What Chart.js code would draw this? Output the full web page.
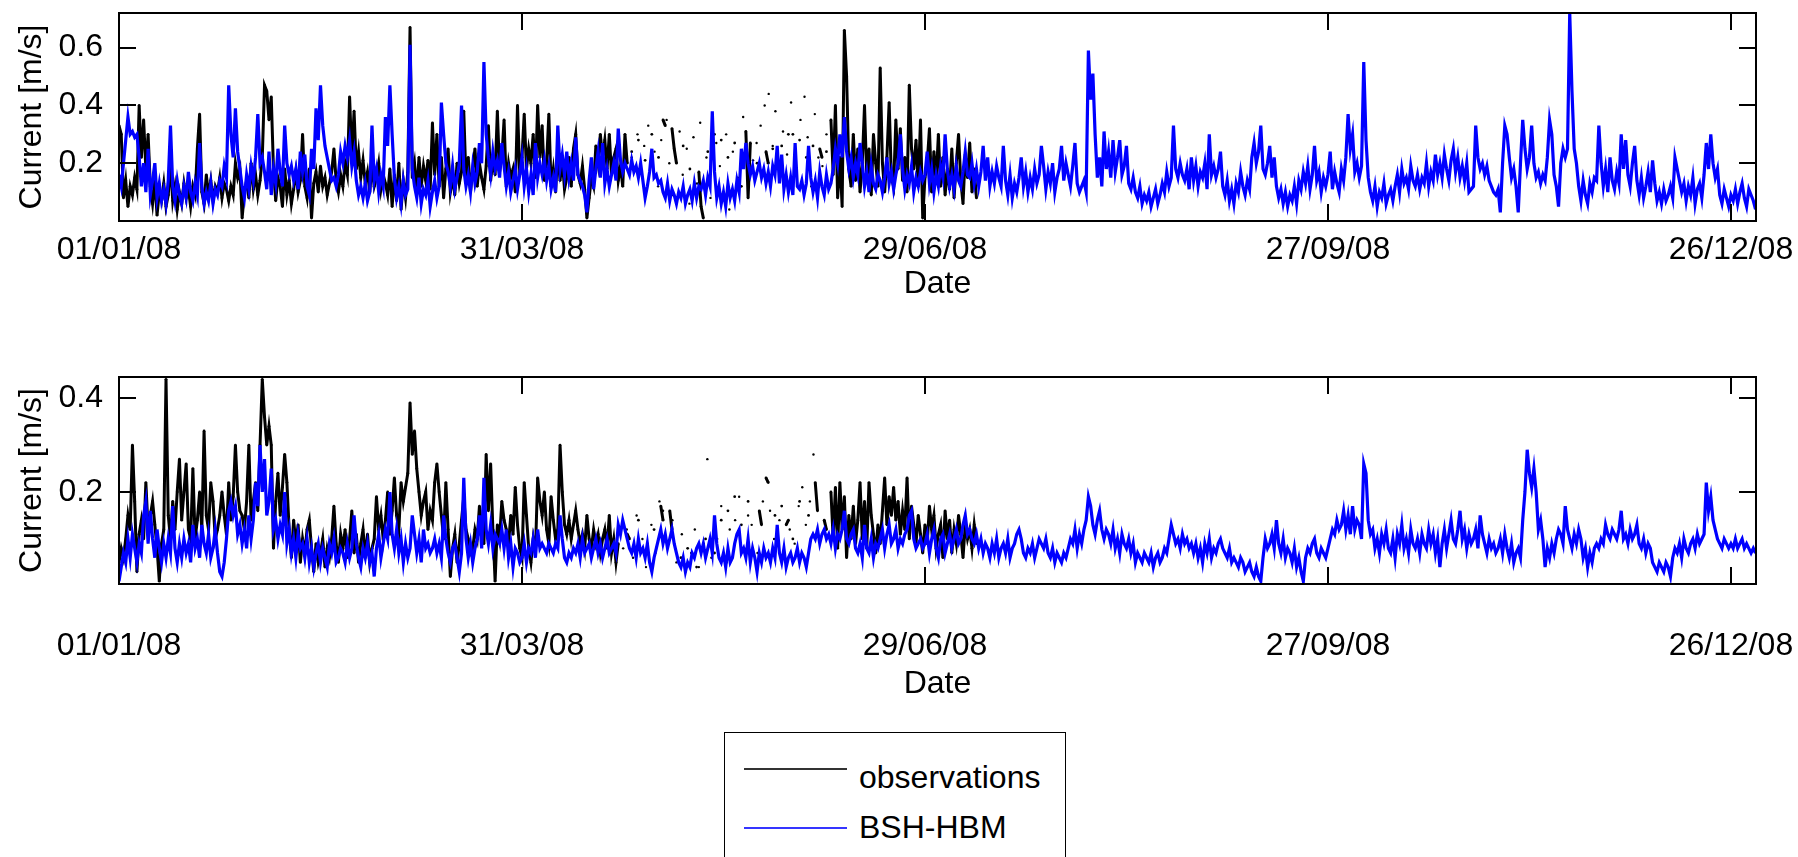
<!DOCTYPE html>
<html>
<head>
<meta charset="utf-8">
<title>Current observations vs BSH-HBM 2008</title>
<script src="https://cdn.jsdelivr.net/npm/chart.js@4.4.0/dist/chart.umd.min.js"></script>
<style>
    html, body { margin: 0; padding: 0; background: #fff; }
    body { width: 1798px; height: 857px; position: relative; overflow: hidden; font-family: "Liberation Sans", Arial, sans-serif; }
    canvas { position: absolute; left: 0; }
    #topChart { top: 0; }
    #bottomChart { top: 364px; }
    #legend { position: absolute; left: 724px; top: 732px; width: 340px; height: 160px; border: 1px solid #000; background: #fff; }
    .swatch { position: absolute; left: 19px; width: 103px; height: 2px; }
    .lbl { position: absolute; left: 134px; font-size: 32px; line-height: 32px; color: #000; white-space: nowrap; }
</style>
</head>
<body>
<canvas id="topChart" width="1798" height="303"></canvas>
<canvas id="bottomChart" width="1798" height="339"></canvas>
<div id="legend">
    <div class="swatch" style="top: 35px; background: #333;"></div>
    <div class="lbl" id="lblObs" style="top: 28px;"></div>
    <div class="swatch" style="top: 94px; background: #3535ff;"></div>
    <div class="lbl" id="lblModel" style="top: 78px;"></div>
</div>
<script>
// x axis: days since 01/01/08, ticks every 90 days
const tickDays = [0, 90, 180, 270, 360];
const tickLabels = ['01/01/08', '31/03/08', '29/06/08', '27/09/08', '26/12/08'];
const topYTicks = [0.2, 0.4, 0.6];
const bottomYTicks = [0.2, 0.4];
const seriesNames = ['observations', 'BSH-HBM'];

// one value every 12 h starting 01/01/08 00:00, in cm/s (null = no data)
const SAMPLE_STEP = 0.5;

const topObs = [
    33,30,8,14,5,12,9,15,11,40, 22,35,18,30,12,6,14,2,10,7,
    13,5,9,20,7,12,4,10,6,13, 8,11,5,12,9,25,37,10,6,16,
    9,14,7,12,10,15,8,13,11,7, 12,9,20,15,18,1,10,14,8,20,
    11,16,9,14,22,47,45,35,43,18, 7,15,12,5,18,9,14,6,11,17,
    10,14,30,12,8,18,1,13,17,10, 19,12,15,9,13,17,25,14,10,16,
    12,20,16,43,22,38,18,24,15,21, 13,17,10,19,12,15,20,11,16,13,
    9,18,5,16,7,20,4,14,8,17, 67,15,20,10,22,12,19,14,21,11,
    34,16,30,12,22,8,18,25,10,15, 9,20,13,17,38,14,22,10,18,25,
    12,20,15,11,19,33,14,21,16,38, 17,22,35,12,20,15,18,10,40,16,
    22,37,18,25,20,30,15,40,22,33, 14,20,37,12,18,10,24,14,21,11,
    15,22,12,25,30,16,13,19,11,1, 8,15,12,26,20,30,22,28,18,30,
    16,22,25,14,19,12,30,20,null,24, null,null,28,null,null,21,null,null,30,null,
    null,22,null,35,33,null,null,32,25,20, null,null,26,null,null,18,null,null,null,17,
    5,1,null,24,null,null,30,null,null,28, null,null,22,null,null,27,null,null,12,null,
    31,8,27,null,null,20,null,null,null,24, 20,null,25,null,null,null,26,null,null,30,
    null,30,null,null,28,null,null,22,null,null, 26,null,null,25,22,null,24,null,35,16,
    40,8,22,5,66,50,18,12,30,14, 25,10,20,40,15,25,9,30,20,12,
    53,20,10,22,41,15,12,35,18,32, 14,22,10,47,25,18,28,12,35,1,
    15,20,32,10,24,14,30,12,22,9, 18,11,25,8,20,30,14,6,23,15,
    27,10,18,8
];

// scattered single observations in the sparse April-June stretch
const topDotDays = [
    114.5,115.8,116.6,117.3,118.2,119.6,120.4,121.1,122.3,122.9,
    123.7,125.2,125.9,126.8,127.4,128.3,129.1,129.8,131.2,132.1,
    133.4,134.2,135.6,136.3,137.1,138.2,139.4,141.6,142.4,143.3,
    144.2,145.1,146.0,146.6,147.4,148.3,149.2,150.1,151.3,152.2,
    153.1,153.8,154.6,155.4,156.2,157.1,158.0
];
const topDotVals = [
    22,30,18,26,33,24,12,28,35,20,
    9,31,16,25,6,29,13,34,22,8,
    27,19,30,4,24,15,36,21,27,33,
    40,44,26,38,18,31,23,41,17,35,
    43,29,12,37,22,19,30
];

const topModel = [
    16,12,20,28,36,30,31,29,30,22, 12,20,10,25,9,14,20,8,13,7,
    11,6,14,33,12,7,14,9,6,12, 8,17,10,7,13,9,27,12,6,10,
    7,13,6,11,9,14,12,19,15,47, 30,22,39,24,18,12,8,16,11,19,
    14,22,37,20,22,17,11,24,9,18, 13,25,17,12,33,20,16,19,14,18,
    11,24,17,23,12,9,25,18,39,28, 47,33,26,22,18,14,15,12,16,24,
    20,26,22,28,19,24,14,9,12,8, 13,7,10,33,14,18,10,16,12,36,
    26,47,30,15,8,12,6,14,9,11, 61,18,12,8,15,6,11,9,14,5,
    10,14,8,12,41,30,20,17,12,19, 11,15,20,40,18,12,16,10,19,13,
    17,27,20,55,30,22,16,24,18,21, 15,27,19,12,17,10,14,18,11,16,
    22,12,18,10,16,9,27,15,20,16, 21,14,19,11,15,10,33,18,23,16,
    24,15,20,14,29,16,14,12,9,3, 14,22,11,18,24,15,27,13,18,12,
    16,20,14,32,21,17,20,18,16,21, 17,19,15,20,14,8,12,17,25,15,
    16,13,14,10,8,13,7,11,9,6, 10,8,12,6,9,11,7,13,8,12,
    11,14,9,15,12,38,17,8,12,6, 10,5,13,8,11,7,14,10,25,18,
    27,20,16,19,14,17,20,15,18,13, 17,12,19,16,26,13,23,11,16,10,
    15,9,27,12,11,14,9,13,26,15, 10,14,8,17,12,9,16,11,13,18,
    25,20,30,22,36,24,18,22,15,20, 16,27,20,12,17,10,19,13,11,16,
    14,10,15,22,13,17,11,16,20,30, 18,11,16,13,19,10,15,12,17,14,
    16,24,13,18,10,16,12,19,15,30, 18,12,16,11,19,14,12,17,24,16,
    15,20,13,18,12,17,26,14,22,12, 17,13,19,15,12,26,14,9,16,8,
    13,10,15,22,12,17,10,15,11,18, 13,16,26,19,11,17,13,20,10,15,
    18,26,14,20,16,12,19,27,13,10, 12,14,10,59,42,51,30,15,22,12,
    31,18,24,15,28,17,22,28,16,19, 26,13,11,15,10,8,12,6,9,7,
    10,5,8,11,6,9,13,10,17,12, 15,33,18,15,20,16,14,18,11,22,
    14,19,12,17,15,20,11,30,16,19, 15,18,24,12,9,14,7,11,6,13,
    10,17,12,9,14,11,22,27,20,24, 33,18,16,20,26,15,22,12,8,11,
    6,10,5,9,7,12,6,14,11,17, 13,19,11,16,26,14,17,10,15,12,
    16,24,11,17,13,10,18,14,22,37, 25,30,17,20,15,19,55,28,15,10,
    7,12,5,10,8,13,6,9,11,7, 12,16,10,18,13,15,11,19,14,12,
    16,11,15,13,20,12,17,14,23,16, 20,15,23,18,14,21,25,17,22,15,
    19,14,20,10,11,12,33,22,18,20, 16,19,14,12,10,9,11,3,20,33,
    30,22,15,18,12,3,20,35,25,18, 22,33,20,15,17,13,16,14,22,35,
    30,16,12,5,20,25,22,25,72,45, 25,20,12,7,14,9,6,13,10,15,
    14,33,20,12,18,10,22,14,11,17, 13,30,18,28,16,12,20,26,14,9,
    15,8,12,17,10,21,13,7,10,6, 11,7,9,12,8,22,18,14,10,13,
    7,12,9,15,6,11,13,8,16,27, 18,30,20,15,18,9,6,11,8,5,
    9,7,11,6,10,13,8,5,11,9,7,4
];

const bottomObs = [
    5,8,6,10,15,12,30,18,3,11, 14,10,22,12,15,18,13,8,1,9,
    12,44,15,10,18,12,20,27,14,20, 26,12,10,25,10,14,20,12,33,15,
    12,22,18,10,12,15,20,15,11,22, 14,19,30,20,16,15,12,18,30,14,
    18,22,16,30,44,36,30,34,30,8, 18,24,15,21,28,22,12,6,14,9,
    13,5,10,7,12,14,8,3,9,5, 7,10,4,8,6,10,17,9,5,11,
    8,12,6,10,16,7,11,5,9,12, 6,11,5,8,10,19,12,15,10,14,
    20,11,16,23,15,12,22,18,21,24, 39,28,33,25,20,15,18,20,12,16,
    14,22,26,20,15,10,22,12,2,8, 11,5,9,14,19,12,10,7,8,12,
    10,17,13,9,28,16,26,12,1,13, 10,18,14,12,9,15,11,21,13,8,
    6,22,15,8,5,10,7,23,18,15, 20,12,9,19,14,10,12,30,20,13,
    11,14,10,13,16,12,9,11,8,15, 10,8,12,9,11,7,10,12,8,15,
    7,10,5,9,null,null,null,11,10,null, null,null,14,null,null,null,9,null,null,12,
    null,null,17,14,null,null,16,12,null,null, null,6,null,null,8,null,null,null,4,null,
    null,null,10,null,null,null,7,null,null,14, null,null,16,null,null,19,null,null,13,null,
    null,18,null,null,null,null,16,13,null,23, 22,null,null,15,null,null,17,null,13,14,
    null,10,null,null,18,null,null,null,15,null, null,22,16,null,null,14,12,null,20,10,
    21,8,22,12,19,6,15,10,17,9, 14,22,10,18,8,22,15,11,7,13,
    9,16,23,13,19,15,21,14,18,11, 16,12,23,10,17,13,9,15,11,7,
    13,9,17,12,15,8,11,13,6,16, 10,14,7,12,9,15,11,6,13,10,
    12,8,13,9
];

const bottomDotDays = [
    112.6,113.4,114.8,115.6,116.9,117.7,118.9,119.8,120.7,121.5,
    122.8,123.6,124.5,125.7,126.5,127.8,128.6,129.5,130.6,131.4,
    132.3,133.6,134.5,135.7,136.4,137.6,138.5,139.7,140.5,141.3,
    142.6,143.8,145.4,146.3,147.5,148.2,149.8,150.9,151.8,152.6,
    153.4,154.3,155.1
];
const bottomDotVals = [
    8,12,6,15,10,4,13,7,18,16,
    9,14,5,11,3,7,12,4,9,27,
    6,10,17,5,12,14,19,8,15,13,
    7,18,16,10,14,6,12,9,17,21,
    13,18,28
];

const bottomModel = [
    1,4,7,5,10,6,11,8,5,9, 7,15,18,9,16,10,6,12,8,5,
    9,6,10,7,17,8,5,9,6,10, 7,9,5,13,8,10,6,13,9,7,
    11,6,8,12,7,3,2,5,10,16, 18,15,17,11,13,9,12,8,15,10,
    14,22,17,30,20,27,15,18,25,12, 14,10,13,11,20,9,12,7,10,6,
    11,8,9,6,10,5,8,4,7,9, 5,8,6,4,9,7,10,5,6,8,
    7,5,9,6,8,15,9,6,4,8, 6,9,5,7,2,8,11,6,9,12,
    10,20,11,8,12,7,10,5,9,6, 8,15,11,7,10,5,12,8,9,7,
    8,10,7,9,6,15,10,7,5,8, 9,6,3,7,23,10,6,9,5,8,
    10,15,8,23,12,9,13,8,11,10, 9,12,8,12,6,9,4,8,7,5,
    6,9,5,8,7,10,6,12,8,9, 8,7,9,8,7,9,8,15,10,6,
    5,7,6,8,7,9,6,10,7,8, 9,6,8,10,7,9,6,8,10,7,
    8,9,7,13,11,14,12,10,8,7, 9,6,10,7,8,6,9,5,3,6,
    8,10,12,9,11,8,10,12,9,7, 5,4,6,3,5,4,7,6,8,9,
    7,9,6,8,10,7,15,9,6,5, 7,4,8,5,6,9,11,12,7,8,
    6,10,5,8,6,3,7,5,8,6, 7,5,8,6,13,7,5,8,4,6,
    7,5,6,8,5,7,6,4,7,10, 11,10,12,9,11,12,10,11,9,12,
    8,11,10,12,16,10,9,11,12,8, 7,9,6,13,8,7,10,6,9,8,
    10,12,8,11,13,9,10,12,8,10, 9,11,12,15,16,10,8,9,10,8,
    9,11,7,10,12,8,6,10,11,7, 9,11,8,10,12,9,10,13,15,11,
    12,10,9,11,8,10,7,9,8,6, 9,7,10,6,8,9,7,10,6,8,
    9,11,12,10,7,6,8,7,9,6, 8,10,9,8,10,7,6,8,5,7,
    6,5,7,6,8,10,9,12,8,11, 9,12,14,19,17,13,11,14,16,12,
    10,12,11,9,12,8,10,7,11,9, 8,10,7,9,5,7,6,5,7,6,
    5,7,4,6,7,5,6,8,7,10, 13,11,9,10,8,11,9,10,8,9,
    7,9,6,8,5,9,7,10,6,8, 7,9,10,8,7,6,8,5,6,5,
    4,6,5,3,4,5,3,2,4,2, 1,6,10,8,9,11,8,14,9,7,
    10,6,8,7,5,8,4,6,3,1, 6,8,7,9,10,7,6,8,7,6,
    8,10,12,11,14,12,13,16,12,15, 11,17,12,14,13,10,26,24,14,11,
    12,8,10,7,11,9,12,8,7,10, 6,11,9,13,8,10,7,12,9,8,
    10,7,11,9,8,12,9,11,7,10, 4,9,12,8,11,14,10,9,12,16,
    10,12,8,11,9,10,12,8,15,11, 9,7,10,8,9,7,8,10,7,11,
    8,6,9,5,7,8,6,14,20,29, 24,21,25,20,12,14,10,4,8,6,
    9,7,10,12,11,9,17,12,10,8, 11,9,12,10,6,8,4,7,5,8,
    9,8,10,9,13,11,10,12,11,10, 12,16,10,11,9,12,10,11,13,9,
    8,10,7,9,8,5,4,3,5,4, 3,5,4,2,6,8,7,9,6,10,
    8,7,9,10,8,11,9,10,11,22, 16,19,14,12,10,9,8,10,9,8,
    9,8,10,8,9,10,8,9,8,7,8,7
];

const TICK_LEN = 17;

function toPoints(values) {
    return values.map((v, i) => ({ x: i * SAMPLE_STEP, y: v === null ? null : v / 100 }));
}

function toDots(days, values) {
    return days.map((d, i) => ({ x: d, y: values[i] / 100 }));
}

// MATLAB-like box with inward ticks on all four sides
const matlabBox = {
    id: 'matlabBox',
    afterDatasetsDraw(chart) {
        const { ctx, chartArea: a, scales } = chart;
        ctx.save();
        ctx.strokeStyle = '#000';
        ctx.lineWidth = 2;
        ctx.strokeRect(a.left, a.top, a.right - a.left, a.bottom - a.top);
        ctx.beginPath();
        scales.x.ticks.forEach(t => {
            const px = Math.round(scales.x.getPixelForValue(t.value));
            ctx.moveTo(px, a.bottom);
            ctx.lineTo(px, a.bottom - TICK_LEN);
            ctx.moveTo(px, a.top);
            ctx.lineTo(px, a.top + TICK_LEN);
        });
        scales.y.ticks.forEach(t => {
            const py = Math.round(scales.y.getPixelForValue(t.value));
            ctx.moveTo(a.left, py);
            ctx.lineTo(a.left + TICK_LEN, py);
            ctx.moveTo(a.right, py);
            ctx.lineTo(a.right - TICK_LEN, py);
        });
        ctx.stroke();
        ctx.restore();
    }
};

Chart.defaults.font.family = '"Liberation Sans", Arial, sans-serif';
Chart.defaults.color = '#000';

function makeChart(id, obs, dots, model, yMin, yMax, yTicks, labelPad, xAxisHeight) {
    return new Chart(document.getElementById(id), {
        type: 'line',
        data: {
            datasets: [
                {
                    label: seriesNames[1],
                    data: toPoints(model),
                    borderColor: '#0000ff',
                    borderWidth: 3.2,
                    pointRadius: 0,
                    order: 1
                },
                {
                    label: seriesNames[0],
                    data: toPoints(obs),
                    borderColor: '#000',
                    borderWidth: 3,
                    pointRadius: 1.4,
                    pointBorderWidth: 0,
                    pointBackgroundColor: '#000',
                    order: 2
                },
                {
                    label: seriesNames[0],
                    data: dots,
                    showLine: false,
                    pointRadius: 1.2,
                    pointBorderWidth: 0,
                    pointBackgroundColor: '#000',
                    order: 3
                }
            ]
        },
        options: {
            responsive: false,
            animation: false,
            events: [],
            spanGaps: false,
            layout: { padding: { top: 13, right: 42, left: 0, bottom: 0 } },
            elements: { line: { tension: 0, borderJoinStyle: 'miter' } },
            plugins: { legend: { display: false }, tooltip: { enabled: false } },
            scales: {
                x: {
                    type: 'linear',
                    min: 0,
                    max: 365.6,
                    grid: { display: false, drawTicks: false },
                    border: { display: false },
                    afterBuildTicks: s => { s.ticks = tickDays.map(v => ({ value: v })); },
                    afterFit: s => { s.height = xAxisHeight; s.paddingLeft = 0; s.paddingRight = 0; },
                    ticks: {
                        padding: labelPad,
                        autoSkip: false,
                        maxRotation: 0,
                        font: { size: 32 },
                        callback: (v, i) => tickLabels[i]
                    },
                    title: { display: true, text: 'Date', font: { size: 32 }, padding: 0 }
                },
                y: {
                    type: 'linear',
                    min: yMin,
                    max: yMax,
                    grid: { display: false, drawTicks: false },
                    border: { display: false },
                    afterBuildTicks: s => { s.ticks = yTicks.map(v => ({ value: v })); },
                    afterFit: s => { s.width = 119; s.paddingTop = 0; s.paddingBottom = 0; },
                    ticks: {
                        padding: 16,
                        font: { size: 32 },
                        callback: v => v.toFixed(1)
                    },
                    title: { display: true, text: 'Current [m/s]', font: { size: 32 }, padding: { top: 13, bottom: 0 } }
                }
            }
        },
        plugins: [matlabBox]
    });
}

makeChart('topChart', topObs, toDots(topDotDays, topDotVals), topModel, 0, 0.72, topYTicks, 10, 82);
makeChart('bottomChart', bottomObs, toDots(bottomDotDays, bottomDotVals), bottomModel, 0.004, 0.445, bottomYTicks, 43, 119);

document.getElementById('lblObs').textContent = seriesNames[0];
document.getElementById('lblModel').textContent = seriesNames[1];
</script>
</body>
</html>
